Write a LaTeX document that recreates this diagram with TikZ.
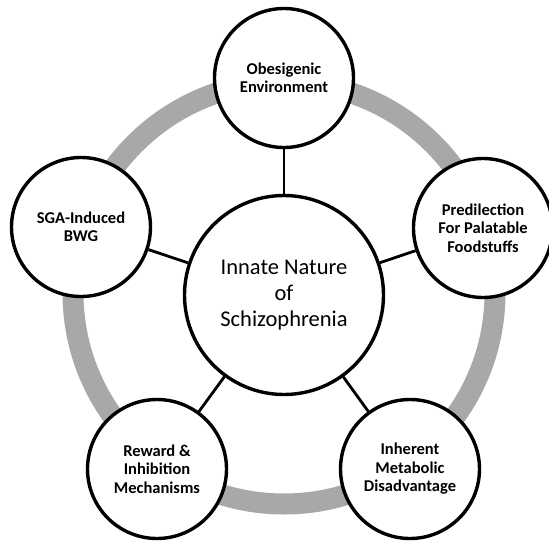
\documentclass[tikz,border=0pt]{standalone}
\usepackage{fontspec}
\setmainfont{Carlito}

\begin{document}
\begin{tikzpicture}[x=1pt, y=-1pt,
    bubble/.style={draw, circle, line width=3.4pt, fill=white, minimum size=139pt,
                   inner sep=0pt, align=center, font=\bfseries\fontsize{16.5}{18.5}\selectfont},
    hub/.style={draw, circle, line width=3.4pt, fill=white, minimum size=199pt,
                inner sep=0pt, align=center, font=\fontsize{22.5}{26}\selectfont},
    link/.style={line width=2.8pt},
    ring/.style={draw=black!34, line width=21pt}
  ]
  \useasboundingbox (0,0) rectangle (549,541);
  \draw[ring] (284,293) circle (211pt);

  \node[hub] (innate) at (284,295) {Innate Nature\\of\\Schizophrenia};
  \node[bubble] (obesigenic) at (284,78) {Obesigenic\\Environment};
  \node[bubble] (predilection) at (483,228) {Predilection\\For Palatable\\Foodstuffs};
  \node[bubble] (metabolic) at (410,469) {Inherent\\Metabolic\\Disadvantage};
  \node[bubble] (reward) at (157,469) {Reward \&\\Inhibition\\Mechanisms};
  \node[bubble] (sga) at (81,227) {SGA-Induced\\BWG};

  \draw[link] (innate) -- (obesigenic);
  \draw[link] (innate) -- (predilection);
  \draw[link] (innate) -- (metabolic);
  \draw[link] (innate) -- (reward);
  \draw[link] (innate) -- (sga);
\end{tikzpicture}
\end{document}
